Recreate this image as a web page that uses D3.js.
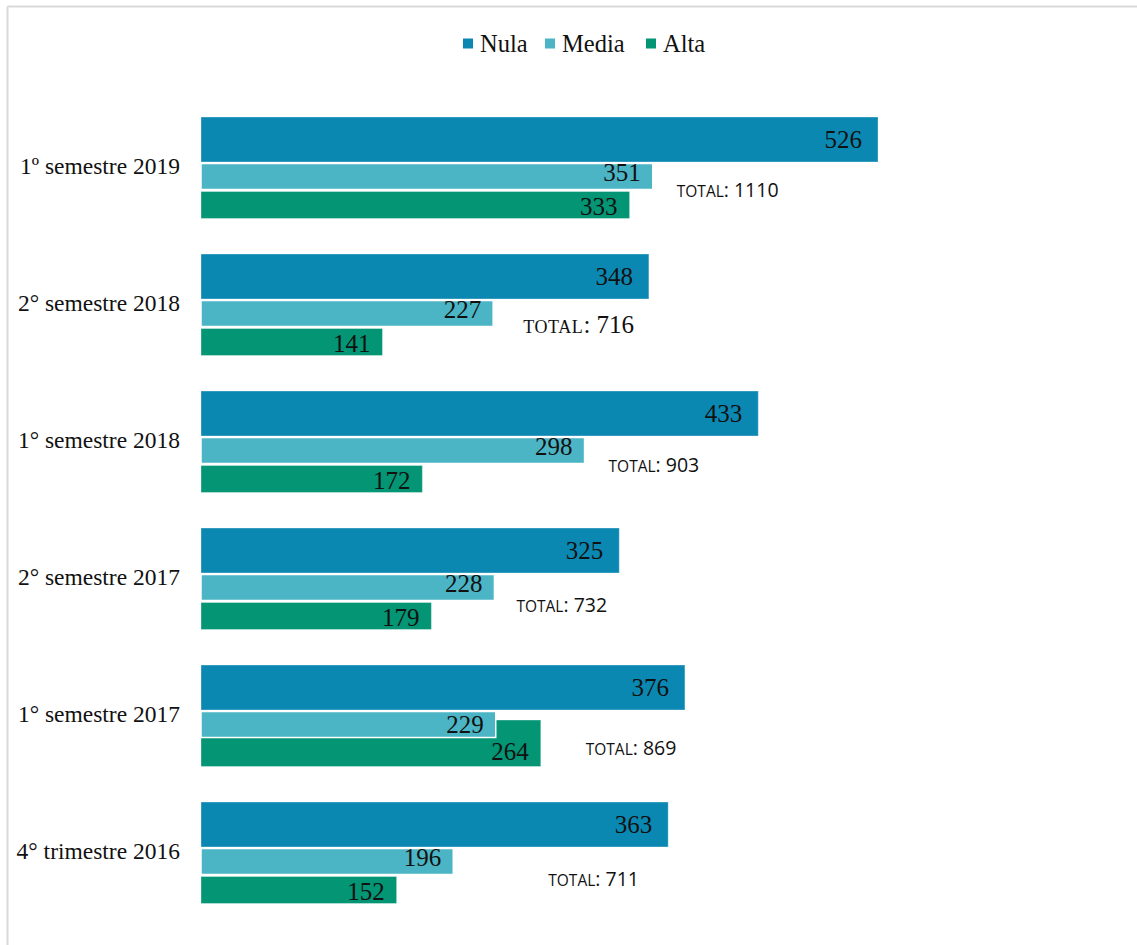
<!DOCTYPE html>
<html>
<head>
<meta charset="utf-8">
<script src="https://cdn.jsdelivr.net/npm/d3@7/dist/d3.min.js"></script>
<style>
  html, body { margin: 0; padding: 0; background: #fff; }
  svg { display: block; }
</style>
</head>
<body>
<script>
// Periods, top to bottom
const categories = [
  "1º semestre 2019",
  "2° semestre 2018",
  "1° semestre 2018",
  "2° semestre 2017",
  "1° semestre 2017",
  "4° trimestre 2016"
];
const seriesNames = ["Nula", "Media", "Alta"];
const nula  = [526, 348, 433, 325, 376, 363];
const media = [351, 227, 298, 228, 229, 196];
const alta  = [333, 141, 172, 179, 264, 152];
const totals = [1110, 716, 903, 732, 869, 711];

const W = 1137, H = 945;
const colors = { Nula: "#0b88b2", Media: "#4bb5c5", Alta: "#039574" };
const serif = "'Liberation Serif', 'DejaVu Serif', serif";
const sans = "'Open Sans', 'Noto Sans', sans-serif";

const svg = d3.select("body").append("svg")
  .attr("width", W).attr("height", H);

// frame lines (top and left)
svg.append("line").attr("x1", 7.5).attr("x2", W).attr("y1", 6.5).attr("y2", 6.5)
  .attr("stroke", "#d9d9d9").attr("stroke-width", 2);
svg.append("line").attr("x1", 7.5).attr("x2", 7.5).attr("y1", 6.5).attr("y2", H)
  .attr("stroke", "#d9d9d9").attr("stroke-width", 2);

// scales
const x = d3.scaleLinear().domain([0, 526]).range([201, 878]);
const y = d3.scaleBand().domain(categories).range([117, 117 + 137 * categories.length]);

// vertical slot of each series inside a category band
const slot = {
  Nula:  { top: 0,    h: 45, labelDy: 31, pad: 16 },
  Media: { top: 46.5, h: 26, labelDy: 64, pad: 12 },
  Alta:  { top: 74.5, h: 27, labelDy: 98, pad: 12 }
};

const rows = categories.map((c, i) => ({
  cat: c, Nula: nula[i], Media: media[i], Alta: alta[i], total: totals[i], i
}));

// bars: Alta first so Media sits on top of it
const drawOrder = ["Nula", "Alta", "Media"];
drawOrder.forEach(s => {
  svg.append("g").selectAll("rect").data(rows).join("rect")
    .attr("x", x(0))
    .attr("y", d => {
      let top = y(d.cat) + slot[s].top;
      // the 2017 first-semester Alta bar rises behind the Media bar
      if (s === "Alta" && d.cat === "1° semestre 2017") top -= 19.5;
      return top;
    })
    .attr("width", d => x(d[s]) - x(0))
    .attr("height", d => slot[s].h + ((s === "Alta" && d.cat === "1° semestre 2017") ? 19.5 : 0))
    .attr("fill", colors[s])
    .attr("stroke", s === "Media" ? "#ffffff" : "rgba(255,255,255,0.35)")
    .attr("stroke-width", s === "Media" ? 1.5 : 1);
});

// value labels at the end of each bar
seriesNames.forEach(s => {
  svg.append("g").selectAll("text").data(rows).join("text")
    .attr("x", d => x(d[s]) - slot[s].pad)
    .attr("y", d => y(d.cat) + slot[s].labelDy + (d.cat === "1° semestre 2017" && s !== "Nula" ? (s === "Media" ? 4 : -3) : 0))
    .attr("text-anchor", "end")
    .attr("font-family", serif)
    .attr("font-size", 25)
    .attr("fill", "#111")
    .text(d => d[s]);
});

// category labels
svg.append("g").selectAll("text").data(rows).join("text")
  .attr("x", 180)
  .attr("y", d => y(d.cat) + 57)
  .attr("text-anchor", "end")
  .attr("font-family", serif)
  .attr("font-size", 23.5)
  .attr("fill", "#111")
  .text(d => d.cat);

// total annotations, placed beside the Media bar
const totalDx = [24, 30, 24, 22, 90, 95];
const totalDy = [80, 79, 81, 84, 90, 84];
rows.forEach((d, i) => {
  const t = svg.append("text")
    .attr("x", x(d.Media) + totalDx[i])
    .attr("y", y(d.cat) + totalDy[i])
    .attr("fill", "#111");
  if (i === 1) {
    t.attr("font-family", serif);
    t.append("tspan").attr("font-size", 18).attr("letter-spacing", 0.6).text("TOTAL");
    t.append("tspan").attr("font-size", 25).text(": " + d.total);
  } else {
    t.attr("font-family", sans);
    t.append("tspan").attr("font-size", 15.5).text("TOTAL");
    t.append("tspan").attr("font-size", 19.5).text(": " + d.total);
  }
});

// legend
const legendX = [463, 545, 646];
const legend = svg.append("g");
seriesNames.forEach((s, i) => {
  legend.append("rect")
    .attr("x", legendX[i]).attr("y", 38.5)
    .attr("width", 10).attr("height", 10)
    .attr("fill", colors[s]);
  legend.append("text")
    .attr("x", legendX[i] + 17).attr("y", 52)
    .attr("font-family", serif).attr("font-size", 24.5)
    .attr("fill", "#111")
    .text(s);
});
</script>
</body>
</html>
